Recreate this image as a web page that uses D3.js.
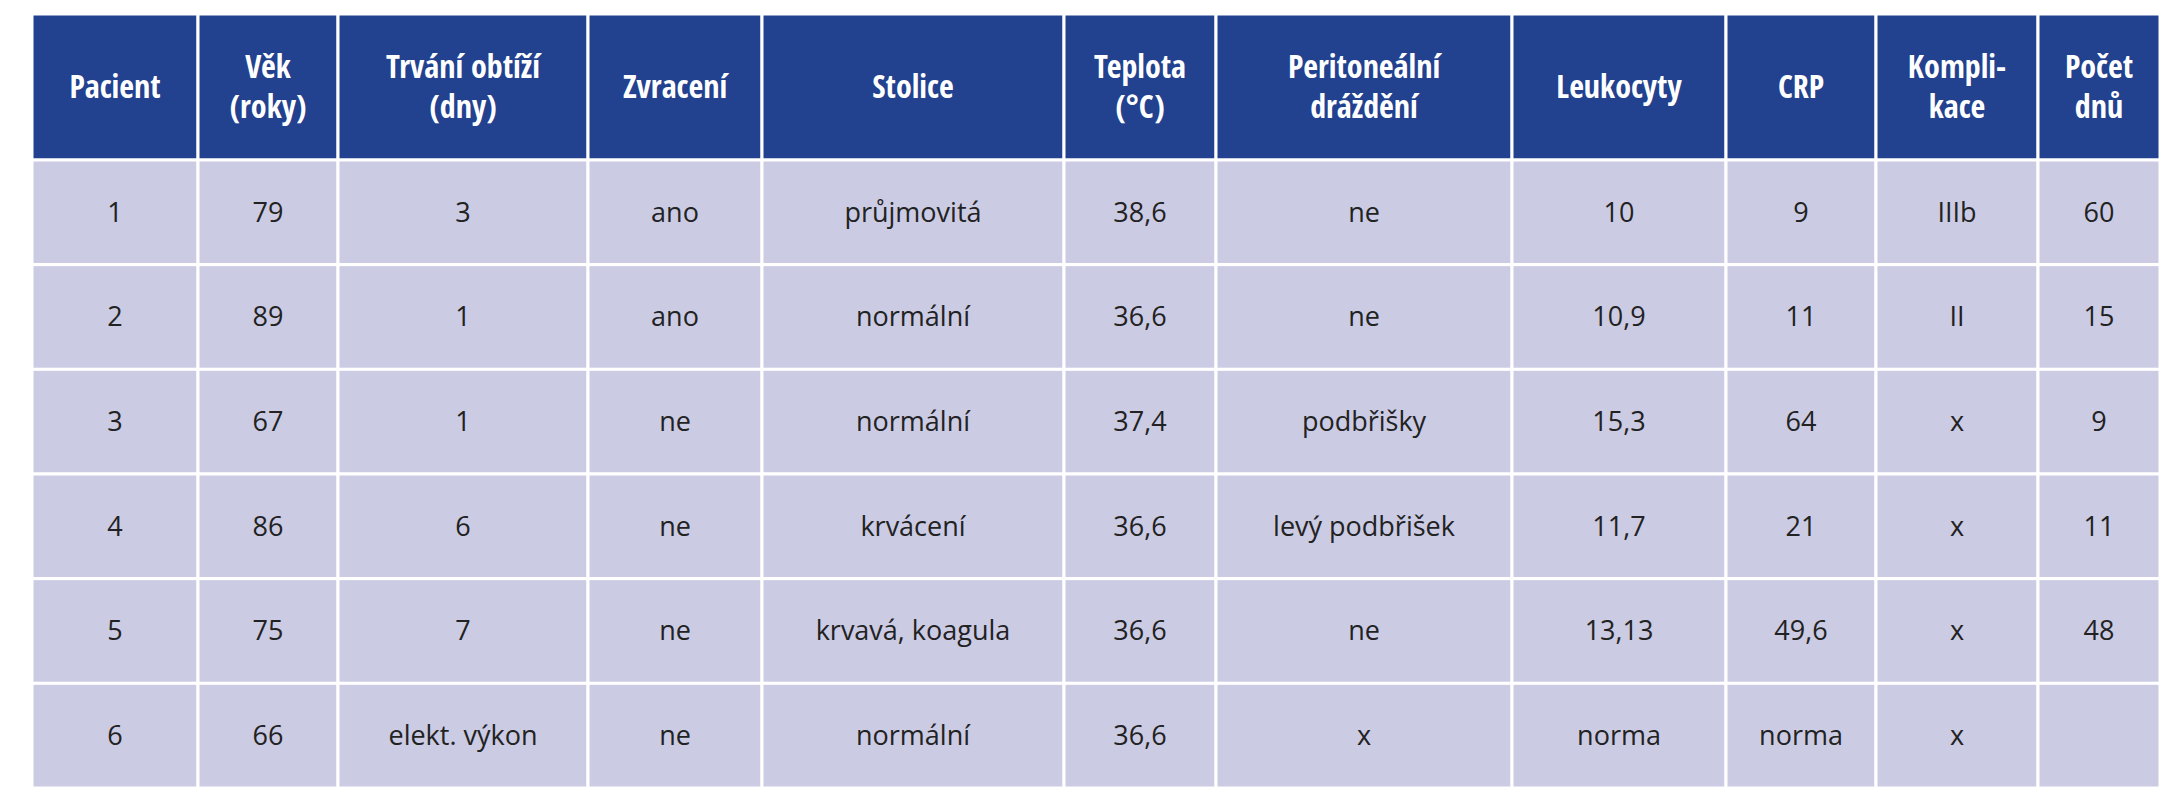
<!DOCTYPE html>
<html><head><meta charset="utf-8">
<script src="https://cdn.jsdelivr.net/npm/d3@7"></script>
<style>body{margin:0;background:#fff}</style>
</head><body>
<svg id="t" width="2178" height="800"></svg>
<script>
// table content
var headers = [["Pacient"],["Věk","(roky)"],["Trvání obtíží","(dny)"],["Zvracení"],["Stolice"],["Teplota","(°C)"],["Peritoneální","dráždění"],["Leukocyty"],["CRP"],["Kompli-","kace"],["Počet","dnů"]];
var pacient = ["1","2","3","4","5","6"];
var vek = ["79","89","67","86","75","66"];
var trvani = ["3","1","1","6","7","elekt. výkon"];
var zvraceni = ["ano","ano","ne","ne","ne","ne"];
var stolice = ["průjmovitá","normální","normální","krvácení","krvavá, koagula","normální"];
var teplota = ["38,6","36,6","37,4","36,6","36,6","36,6"];
var peritoneal = ["ne","ne","podbřišky","levý podbřišek","ne","x"];
var leukocyty = ["10","10,9","15,3","11,7","13,13","norma"];
var crp = ["9","11","64","21","49,6","norma"];
var komplikace = ["IIIb","II","x","x","x","x"];
var pocetDnu = ["60","15","9","11","48",""];

var columns = [pacient, vek, trvani, zvraceni, stolice, teplota, peritoneal, leukocyty, crp, komplikace, pocetDnu];

// layout
var edges = [32, 198, 338, 588, 762, 1064, 1216, 1512, 1726, 1876, 2038, 2160];
var top0 = 14, headH = 146, bottom = 788;

var svg = d3.select("#t");
var y = d3.scaleBand().domain(d3.range(pacient.length)).range([top0 + headH, bottom]);

var colG = svg.selectAll("g.col").data(columns).enter().append("g").attr("class","col");

// header cells
colG.append("rect")
  .attr("x", (d,i) => edges[i]).attr("y", top0)
  .attr("width", (d,i) => edges[i+1]-edges[i]).attr("height", headH)
  .attr("fill", "#22418f").attr("stroke", "#fff").attr("stroke-width", 3);

colG.each(function(d, i) {
  var cx = (edges[i] + edges[i+1]) / 2;
  var lines = headers[i];
  var g = d3.select(this);
  lines.forEach(function(l, k) {
    g.append("text").attr("x", cx)
      .attr("y", top0 + headH/2 + (k - (lines.length-1)/2) * 40)
      .attr("dy", "0.35em").attr("text-anchor", "middle")
      .attr("fill", "#fff").attr("font-weight", "bold")
      .attr("font-family", "'Liberation Sans Narrow', 'Open Sans Condensed', 'Noto Sans', sans-serif")
      .attr("font-size", 32).text(l);
  });

  var cells = g.selectAll("g.cell").data(d).enter().append("g").attr("class","cell");
  cells.append("rect")
    .attr("x", edges[i]).attr("y", (v,r) => y(r))
    .attr("width", edges[i+1]-edges[i]).attr("height", y.bandwidth())
    .attr("fill", "#cbcbe4").attr("stroke", "#fff").attr("stroke-width", 3);
  cells.append("text")
    .attr("x", cx).attr("y", (v,r) => y(r) + y.bandwidth()/2)
    .attr("dy", "0.35em").attr("text-anchor", "middle")
    .attr("fill", "#222").attr("font-family", "'Open Sans', 'Noto Sans', sans-serif")
    .attr("font-size", 27).text(v => v);
});
</script>
</body></html>
